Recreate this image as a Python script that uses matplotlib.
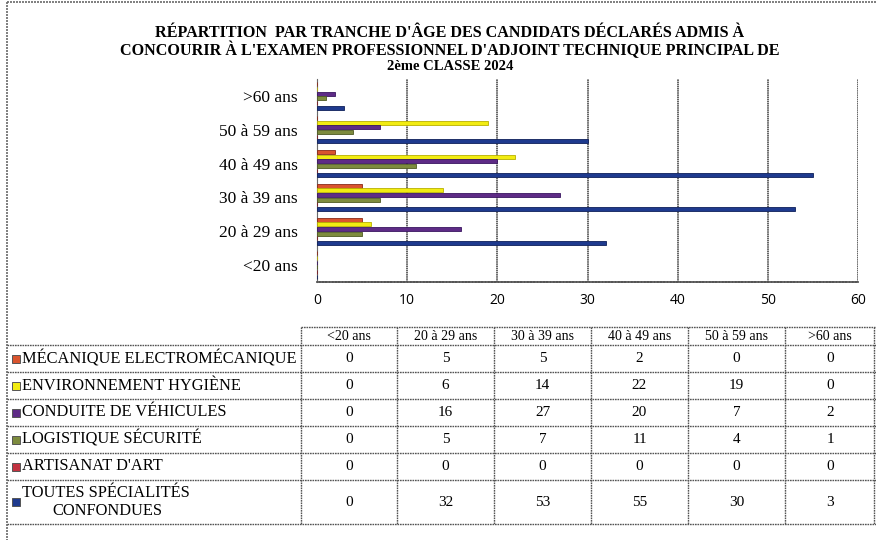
import matplotlib
matplotlib.use("Agg")
import matplotlib.pyplot as plt
from matplotlib.patches import Rectangle

# ---- data ----
categories = ["<20 ans", "20 à 29 ans", "30 à 39 ans", "40 à 49 ans", "50 à 59 ans", ">60 ans"]
series_names = ["MÉCANIQUE ELECTROMÉCANIQUE", "ENVIRONNEMENT HYGIÈNE", "CONDUITE DE VÉHICULES",
                "LOGISTIQUE SÉCURITÉ", "ARTISANAT D'ART", "TOUTES SPÉCIALITÉS\nCONFONDUES"]
mecanique = [0, 5, 5, 2, 0, 0]
environnement = [0, 6, 14, 22, 19, 0]
conduite = [0, 16, 27, 20, 7, 2]
logistique = [0, 5, 7, 11, 4, 1]
artisanat = [0, 0, 0, 0, 0, 0]
toutes = [0, 32, 53, 55, 30, 3]
series_values = [mecanique, environnement, conduite, logistique, artisanat, toutes]
x_ticks = [0, 10, 20, 30, 40, 50, 60]
title_lines = ["RÉPARTITION  PAR TRANCHE D'ÂGE DES CANDIDATS DÉCLARÉS ADMIS À",
               "CONCOURIR À L'EXAMEN PROFESSIONNEL D'ADJOINT TECHNIQUE PRINCIPAL DE",
               "2ème CLASSE 2024"]

colors = ["#D9542E", "#F2EC12", "#5E2B86", "#7D8B3E", "#C23240", "#1E3A8E"]
edges = ["#8A2A18", "#B8B000", "#3A1660", "#4E5A22", "#7A1A22", "#0E1F5A"]

W, H = 876, 540
fig = plt.figure(figsize=(W / 100, H / 100), dpi=100)
fig.patch.set_facecolor("white")

serif = ["Liberation Serif", "DejaVu Serif"]
sans = ["Open Sans", "DejaVu Sans"]

# overlay axes in pixel coordinates
ov = fig.add_axes([0, 0, 1, 1])
ov.set_xlim(0, W)
ov.set_ylim(H, 0)
ov.axis("off")

lc = "#6a6a6a"
dot = (0, (1.2, 0.6))

# outer frame
ov.plot([7, 7], [2, H], color=lc, lw=1.2, ls=dot)
ov.plot([7, W], [2, 2], color=lc, lw=1.2, ls=dot)

# title
ov.text(450, 33, title_lines[0], ha="center", va="center", family=serif, fontsize=11.6, weight="bold")
ov.text(450, 50, title_lines[1], ha="center", va="center", family=serif, fontsize=11.6, weight="bold")
ov.text(450, 67, title_lines[2], ha="center", va="center", family=serif, fontsize=10.5, weight="bold")

# ---- bar chart ----
ax_l, ax_r, ax_t, ax_b = 317, 858, 79, 282
ax = fig.add_axes([ax_l / W, (H - ax_b) / H, (ax_r - ax_l) / W, (ax_b - ax_t) / H])
pitch = 0.138
bh = 0.118
for i, vals in enumerate(series_values):
    ys = [k + (2.5 - i) * pitch for k in range(len(categories))]
    ax.barh(ys, vals, height=bh, color=colors[i], edgecolor=edges[i], linewidth=0.6, zorder=3)
ax.set_xlim(0, 60)
ax.set_ylim(-0.5, len(categories) - 0.5)
ax.set_xticks(x_ticks)
ax.set_xticklabels([str(t) for t in x_ticks])
ax.set_yticks(range(len(categories)))
ax.set_yticklabels(categories)
for lbl in ax.get_xticklabels():
    lbl.set_fontfamily(sans)
    lbl.set_fontsize(10)
for lbl in ax.get_yticklabels():
    lbl.set_fontfamily(serif)
    lbl.set_fontsize(12.5)
ax.tick_params(axis="x", length=0, pad=8)
ax.tick_params(axis="y", length=0, pad=14)
for t in x_ticks[1:]:
    ax.axvline(t, color="#3a3a3a", lw=1.1, ls=(0, (1.0, 0.4)), zorder=1)
ax.spines["top"].set_visible(False)
ax.spines["right"].set_visible(False)
ax.spines["left"].set_color(lc)
ax.spines["left"].set_linestyle(dot)
ax.spines["bottom"].set_color("#555555")
ax.spines["bottom"].set_linewidth(1.3)
ax.spines["bottom"].set_linestyle(dot)

# ---- data table ----
col_x = [301, 397, 494, 591, 688, 785, 875]
row_y = [327, 345, 372, 399, 426, 453, 480, 524]
tl = dict(color="#555555", lw=1.0, ls=dot)
ov.plot([col_x[0], col_x[-1]], [row_y[0], row_y[0]], **tl)
for y in row_y[1:]:
    ov.plot([7, W], [y, y], **tl)
for x in col_x[:-1]:
    ov.plot([x, x], [row_y[0], row_y[-1]], **tl)
ov.plot([col_x[-1] - 1, col_x[-1] - 1], [row_y[0], row_y[-1]], **tl)

for j, c in enumerate(categories):
    ov.text((col_x[j] + col_x[j + 1]) / 2, (row_y[0] + row_y[1]) / 2 + 0.5, c,
            ha="center", va="center", family=serif, fontsize=10)

for i, (name, vals) in enumerate(zip(series_names, series_values)):
    yc = (row_y[i + 1] + row_y[i + 2]) / 2
    ov.add_patch(Rectangle((12, yc - 4), 8, 8, facecolor=colors[i], edgecolor="#555555", lw=0.7))
    if "\n" in name:
        l1, l2 = name.split("\n")
        ov.text(22, yc - 9, l1, ha="left", va="center", family=serif, fontsize=11.8)
        ov.text(107, yc + 9, l2, ha="center", va="center", family=serif, fontsize=11.8)
    else:
        ov.text(22, yc, name, ha="left", va="center", family=serif, fontsize=11.8)
    for j, v in enumerate(vals):
        ov.text((col_x[j] + col_x[j + 1]) / 2, yc, str(v),
                ha="center", va="center", family=serif, fontsize=11)

fig.savefig("out.png", dpi=100)
